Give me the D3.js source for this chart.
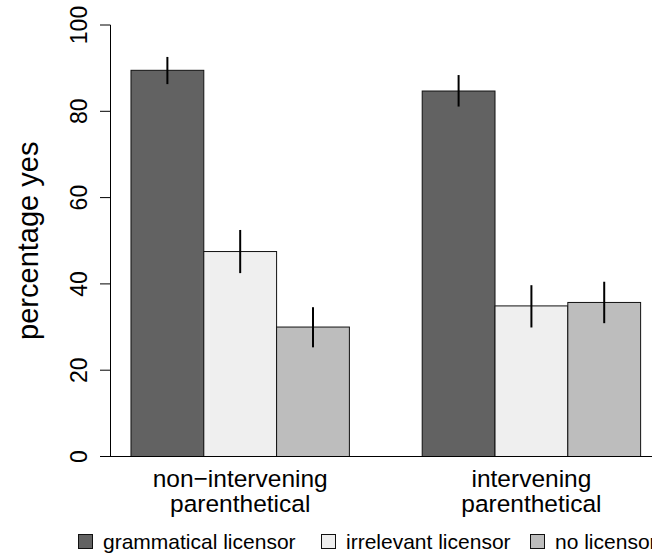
<!DOCTYPE html>
<html>
<head>
<meta charset="utf-8">
<script src="https://cdn.jsdelivr.net/npm/d3@7"></script>
<style>
  body { margin: 0; background: #fff; }
  svg { display: block; font-family: "Liberation Sans", Arial, Helvetica, sans-serif; }
</style>
</head>
<body>
<svg id="chart" width="652" height="556"></svg>
<script>
// conditions on the x axis (two lines each)
var groups = [
  ["non\u2212intervening", "parenthetical"],
  ["intervening", "parenthetical"]
];
var seriesNames = ["grammatical licensor", "irrelevant licensor", "no licensor"];
var seriesFill = ["#626262", "#efefef", "#bdbdbd"];

// mean percentage yes, per series, one value per group
var grammatical = [89.5, 84.7];
var irrelevant = [47.5, 34.9];
var noLicensor = [30.0, 35.7];

// error bar ends
var grammaticalLo = [86.3, 81.1], grammaticalHi = [92.6, 88.4];
var irrelevantLo = [42.5, 29.9], irrelevantHi = [52.5, 39.7];
var noLicensorLo = [25.3, 30.9], noLicensorHi = [34.6, 40.5];

var yTicks = [0, 20, 40, 60, 80, 100];

var means = [grammatical, irrelevant, noLicensor];
var los = [grammaticalLo, irrelevantLo, noLicensorLo];
var his = [grammaticalHi, irrelevantHi, noLicensorHi];

var bars = [];
groups.forEach(function(g, gi) {
  seriesNames.forEach(function(s, si) {
    bars.push({
      group: gi, series: si,
      unit: 1 + gi * 4 + si,   // barplot layout, space = c(0,1)
      value: means[si][gi], lo: los[si][gi], hi: his[si][gi]
    });
  });
});

var svg = d3.select("#chart");

var x = d3.scaleLinear().domain([0.72, 8.28]).range([110.6, 661]);
var y = d3.scaleLinear().domain([0, 100]).range([456.5, 25]);

// bars
svg.selectAll("rect.bar")
  .data(bars)
  .enter().append("rect")
  .attr("class", "bar")
  .attr("x", function(d) { return x(d.unit); })
  .attr("y", function(d) { return y(d.value); })
  .attr("width", function(d) { return x(d.unit + 1) - x(d.unit); })
  .attr("height", function(d) { return y(0) - y(d.value); })
  .attr("fill", function(d) { return seriesFill[d.series]; })
  .attr("stroke", "#111")
  .attr("stroke-width", 1);

// error bars
svg.selectAll("line.err")
  .data(bars)
  .enter().append("line")
  .attr("class", "err")
  .attr("x1", function(d) { return x(d.unit + 0.5); })
  .attr("x2", function(d) { return x(d.unit + 0.5); })
  .attr("y1", function(d) { return y(d.lo); })
  .attr("y2", function(d) { return y(d.hi); })
  .attr("stroke", "#000")
  .attr("stroke-width", 2);

// baseline
svg.append("line")
  .attr("x1", 100).attr("x2", 652)
  .attr("y1", y(0)).attr("y2", y(0))
  .attr("stroke", "#000").attr("stroke-width", 1);

// y axis
var yAxis = svg.append("g").attr("transform", "translate(110.5,0)");
yAxis.append("line")
  .attr("x1", 0).attr("x2", 0)
  .attr("y1", y(100)).attr("y2", y(0))
  .attr("stroke", "#000");
yAxis.selectAll("line.tick")
  .data(yTicks)
  .enter().append("line")
  .attr("class", "tick")
  .attr("x1", -10.5).attr("x2", 0)
  .attr("y1", function(d) { return y(d); })
  .attr("y2", function(d) { return y(d); })
  .attr("stroke", "#000");
yAxis.selectAll("text")
  .data(yTicks)
  .enter().append("text")
  .attr("transform", function(d) { return "translate(-23.5," + y(d) + ") rotate(-90)"; })
  .attr("text-anchor", "middle")
  .attr("font-size", 23)
  .attr("fill", "#000")
  .text(function(d) { return d; });

svg.append("text")
  .attr("transform", "translate(38," + ((y(0) + y(100)) / 2) + ") rotate(-90)")
  .attr("text-anchor", "middle")
  .attr("font-size", 29)
  .text("percentage yes");

// group labels
var glab = svg.selectAll("text.group")
  .data(groups)
  .enter().append("text")
  .attr("class", "group")
  .attr("text-anchor", "middle")
  .attr("font-size", 24.5)
  .attr("fill", "#000");
glab.each(function(d, i) {
  var cx = x(1 + i * 4 + 1.5);
  d3.select(this).selectAll("tspan")
    .data(d)
    .enter().append("tspan")
    .attr("x", cx)
    .attr("y", function(t, j) { return 487 + j * 25; })
    .text(function(t) { return t; });
});

// legend
var legendX = [78, 321, 530];
var leg = svg.selectAll("g.legend")
  .data(seriesNames)
  .enter().append("g")
  .attr("class", "legend")
  .attr("transform", function(d, i) { return "translate(" + legendX[i] + ",534)"; });
leg.append("rect")
  .attr("x", 0.5).attr("y", 0.5)
  .attr("width", 14).attr("height", 14)
  .attr("fill", function(d, i) { return seriesFill[i]; })
  .attr("stroke", "#111");
leg.append("text")
  .attr("x", 25)
  .attr("y", 15)
  .attr("font-size", 21)
  .text(function(d) { return d; });
</script>
</body>
</html>
